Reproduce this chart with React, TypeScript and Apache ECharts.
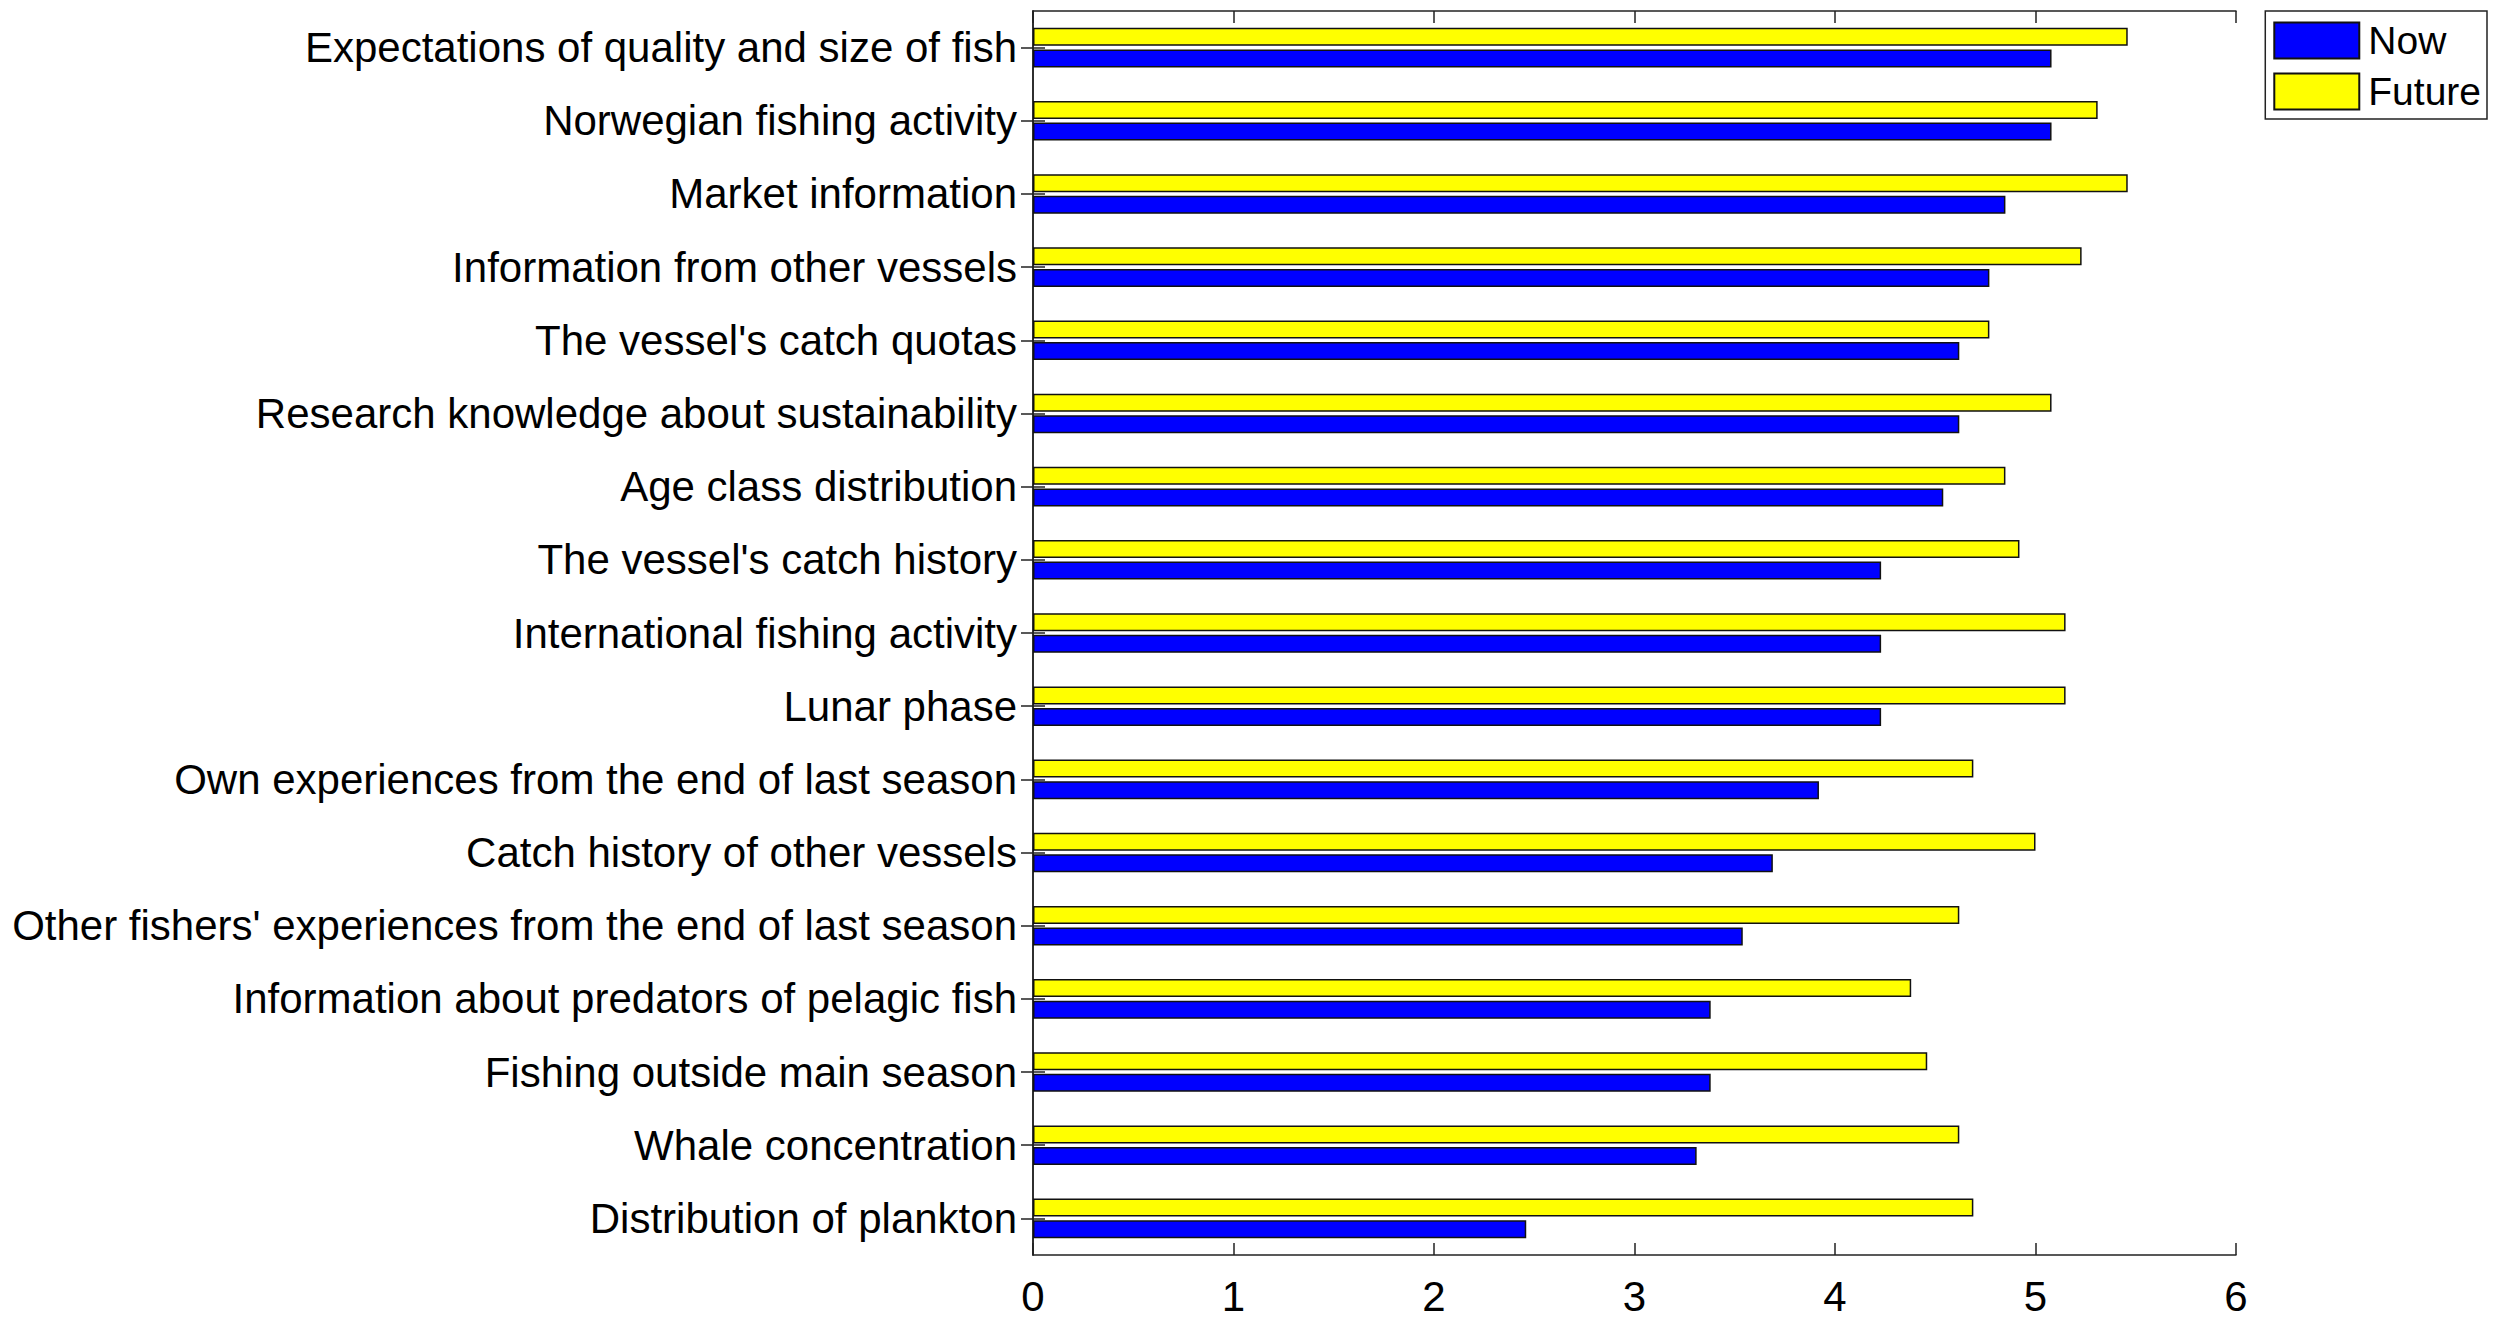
import { useEffect, useRef } from 'react';
import * as echarts from 'echarts';

const categories = [
  'Expectations of quality and size of fish',
  'Norwegian fishing activity',
  'Market information',
  'Information from other vessels',
  "The vessel's catch quotas",
  'Research knowledge about sustainability',
  'Age class distribution',
  "The vessel's catch history",
  'International fishing activity',
  'Lunar phase',
  'Own experiences from the end of last season',
  'Catch history of other vessels',
  "Other fishers' experiences from the end of last season",
  'Information about predators of pelagic fish',
  'Fishing outside main season',
  'Whale concentration',
  'Distribution of plankton',
];

const nowValues = [5.08, 5.08, 4.85, 4.77, 4.62, 4.62, 4.54, 4.23, 4.23, 4.23, 3.92, 3.69, 3.54, 3.38, 3.38, 3.31, 2.46];
const futureValues = [5.46, 5.31, 5.46, 5.23, 4.77, 5.08, 4.85, 4.92, 5.15, 5.15, 4.69, 5.0, 4.62, 4.38, 4.46, 4.62, 4.69];

const xTicks = [0, 1, 2, 3, 4, 5, 6];

const FONT = 'Arial, "Liberation Sans", sans-serif';

export default function App() {
  const chartRef = useRef<HTMLDivElement>(null);

  useEffect(() => {
    if (!chartRef.current) return;
    const chart = echarts.init(chartRef.current, undefined, { renderer: 'svg' });
    const frame = { show: true, lineStyle: { color: '#222', width: 1.5 } };
    const tickIn = { show: true, inside: true, length: 12, lineStyle: { color: '#222', width: 1.5 } };

    chart.setOption({
      animation: false,
      backgroundColor: '#fff',
      textStyle: { fontFamily: FONT },
      legend: {
        orient: 'vertical',
        right: 13,
        top: 11,
        icon: 'rect',
        itemWidth: 85,
        itemHeight: 36,
        itemGap: 12,
        padding: [10, 6, 8, 8],
        borderColor: '#222',
        borderWidth: 1.5,
        textStyle: { fontSize: 39, color: '#000', fontFamily: FONT, padding: [0, 0, 0, 4] },
        data: ['Now', 'Future'],
      },
      grid: { left: 1033, right: 264, top: 11, bottom: 72 },
      xAxis: [
        {
          type: 'value',
          min: xTicks[0],
          max: xTicks[xTicks.length - 1],
          interval: 1,
          position: 'bottom',
          axisLine: frame,
          axisTick: tickIn,
          splitLine: { show: false },
          axisLabel: { fontSize: 42, color: '#000', margin: 20, fontFamily: FONT },
        },
        {
          type: 'value',
          min: xTicks[0],
          max: xTicks[xTicks.length - 1],
          interval: 1,
          position: 'top',
          axisLine: frame,
          axisTick: tickIn,
          splitLine: { show: false },
          axisLabel: { show: false },
        },
      ],
      yAxis: [
        {
          type: 'category',
          data: categories,
          inverse: true,
          position: 'left',
          axisLine: frame,
          axisTick: { ...tickIn, alignWithLabel: true },
          axisLabel: { fontSize: 42, color: '#000', margin: 16, fontFamily: FONT },
        },
        {
          type: 'category',
          data: categories,
          inverse: true,
          position: 'right',
          axisLine: frame,
          axisTick: { ...tickIn, alignWithLabel: true },
          axisLabel: { show: false },
        },
      ],
      series: [
        {
          name: 'Future',
          type: 'bar',
          data: futureValues,
          barWidth: 18,
          barGap: '20%',
          itemStyle: { color: '#ffff00', borderColor: '#111', borderWidth: 1.5 },
        },
        {
          name: 'Now',
          type: 'bar',
          data: nowValues,
          barWidth: 18,
          barGap: '20%',
          itemStyle: { color: '#0000ff', borderColor: '#111', borderWidth: 1.5 },
        },
      ],
    });

    return () => chart.dispose();
  }, []);

  return <div ref={chartRef} style={{ position: 'fixed', left: 0, top: 0, width: 2500, height: 1327 }} />;
}
